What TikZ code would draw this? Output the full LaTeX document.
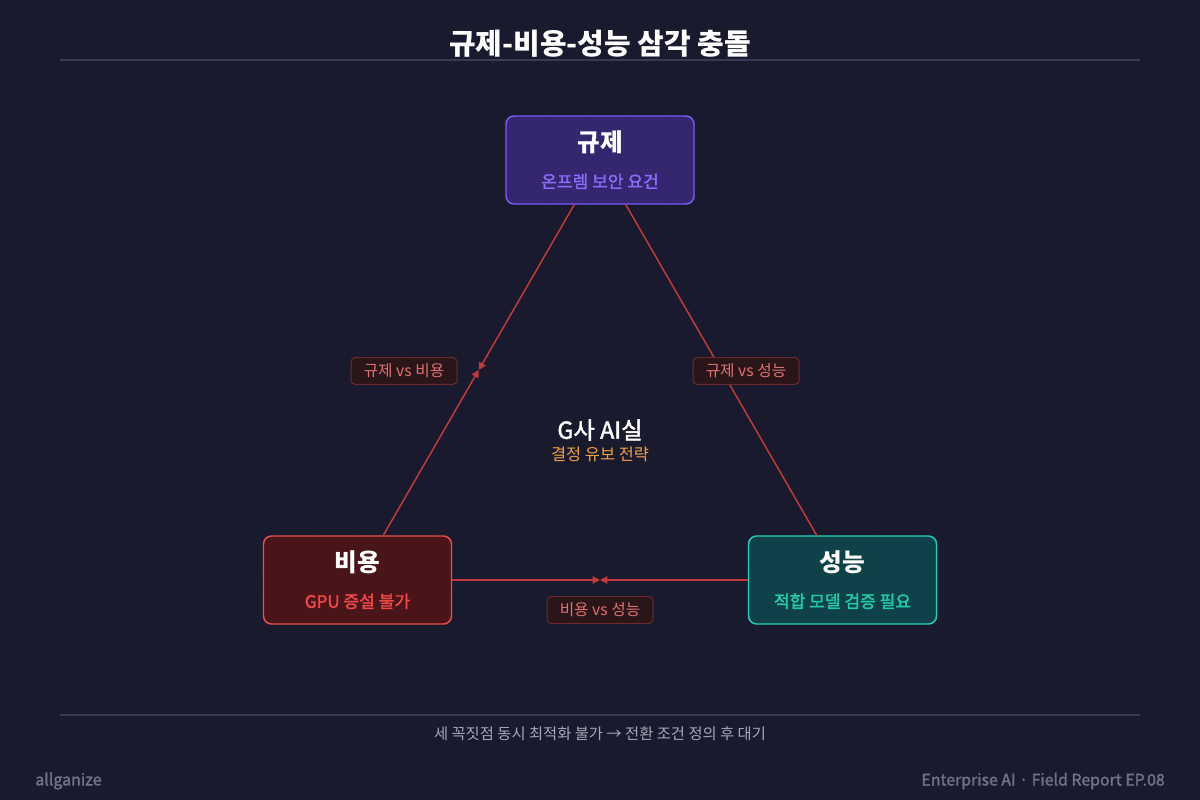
\documentclass[tikz,border=0pt]{standalone}
\usepackage{fontspec}
\setmainfont{Noto Sans CJK KR}
\newfontfamily\semifont[FakeBold=1.8]{Noto Sans CJK KR}
\usetikzlibrary{arrows.meta,calc}

\definecolor{bgnavy}{HTML}{1A1A2E}
\definecolor{stripe}{HTML}{1D1E33}
\definecolor{rulegray}{HTML}{3A3B52}
\definecolor{regfill}{HTML}{34266F}
\definecolor{regline}{HTML}{7A5AF8}
\definecolor{regtext}{HTML}{8A6CF6}
\definecolor{costfill}{HTML}{4A1519}
\definecolor{costline}{HTML}{E8504F}
\definecolor{costtext}{HTML}{F04848}
\definecolor{perffill}{HTML}{0F4248}
\definecolor{perfline}{HTML}{1FD0B8}
\definecolor{perftext}{HTML}{22C9B0}
\definecolor{edgered}{HTML}{C23A3C}
\definecolor{labelfill}{HTML}{2A1618}
\definecolor{labelline}{HTML}{6B2B2D}
\definecolor{labeltext}{HTML}{E0716F}
\definecolor{orangetext}{HTML}{F0A040}
\definecolor{footgray}{HTML}{A6A7B8}
\definecolor{cornergray}{HTML}{707286}

\begin{document}
\begin{tikzpicture}[x=0.75pt,y=-0.75pt,
  vertex/.style={draw,rounded corners=6pt,line width=1.1pt,align=center,minimum width=141pt,minimum height=66pt,inner sep=0pt,font=\semifont\fontsize{12.8}{27}\selectfont},
  vslabel/.style={draw=labelline,fill=labelfill,text=labeltext,rounded corners=3pt,line width=0.75pt,minimum width=79.5pt,minimum height=20pt,inner sep=0pt,font=\fontsize{11.8}{13}\selectfont},
  tip/.style={draw=edgered,line width=1.1pt,-{Triangle[length=5.5pt,width=5.5pt]}},
  rule/.style={draw=rulegray,line width=0.9pt}
]
\useasboundingbox (0,0) rectangle (1200,800);
\fill[bgnavy] (0,0) rectangle (1200,800);
\begin{scope}
  \clip (0,0) rectangle (1200,800);
  \foreach \s in {-400,-360,...,1200}
    \draw[stripe,line width=0.75pt] (\s,800) -- ++(360,-800);
\end{scope}

% header and footer
\node[font=\bfseries\fontsize{21.7}{26}\selectfont,text=white] (title) at (600,44) {규제-비용-성능 삼각 충돌};
\draw[rule] (60,60) -- (1140,60);
\draw[rule] (60,715) -- (1140,715);
\node[font=\fontsize{11.5}{13}\selectfont,text=footgray] (note) at (600,734) {세 꼭짓점 동시 최적화 불가 → 전환 조건 정의 후 대기};
\node[anchor=west,inner sep=0pt,font=\semifont\fontsize{12}{14}\selectfont,text=cornergray] (brand) at (35,781) {allganize};
\node[anchor=east,inner sep=0pt,font=\semifont\fontsize{11.9}{14}\selectfont,text=cornergray] (series) at (1165,781) {Enterprise AI · Field Report EP.08};

% corners of the triangle
\node[vertex,draw=regline,fill=regfill,text=regtext] (gyuje) at (600,160) {{\normalfont\bfseries\fontsize{18.5}{27}\selectfont\color{white}규제}\\온프렘 보안 요건};
\node[vertex,draw=costline,fill=costfill,text=costtext] (biyong) at (357.5,580) {{\normalfont\bfseries\fontsize{18.5}{27}\selectfont\color{white}비용}\\GPU 증설 불가};
\node[vertex,draw=perfline,fill=perffill,text=perftext] (seongneung) at (842.5,580) {{\normalfont\bfseries\fontsize{18.5}{27}\selectfont\color{white}성능}\\적합 모델 검증 필요};

% conflicts meet halfway
\coordinate (m1) at ($(gyuje)!0.5!(biyong)$);
\coordinate (m2) at ($(gyuje)!0.5!(seongneung)$);
\coordinate (m3) at ($(biyong)!0.5!(seongneung)$);
\draw[tip] (gyuje) -- (m1);
\draw[tip] (biyong) -- (m1);
\draw[tip] (gyuje) -- (m2);
\draw[tip] (seongneung) -- (m2);
\draw[tip] (biyong) -- (m3);
\draw[tip] (seongneung) -- (m3);

\node[vslabel] (l1) at (404,371) {규제 vs 비용};
\node[vslabel] (l2) at (746,371) {규제 vs 성능};
\node[vslabel] (l3) at (600,610) {비용 vs 성능};

% center
\node[font=\semifont\fontsize{17.5}{20}\selectfont,text=white] (lab) at (600,430) {G사 AI실};
\node[font=\fontsize{12.3}{14}\selectfont,text=orangetext] (stance) at (600,454) {결정 유보 전략};
\end{tikzpicture}
\end{document}
